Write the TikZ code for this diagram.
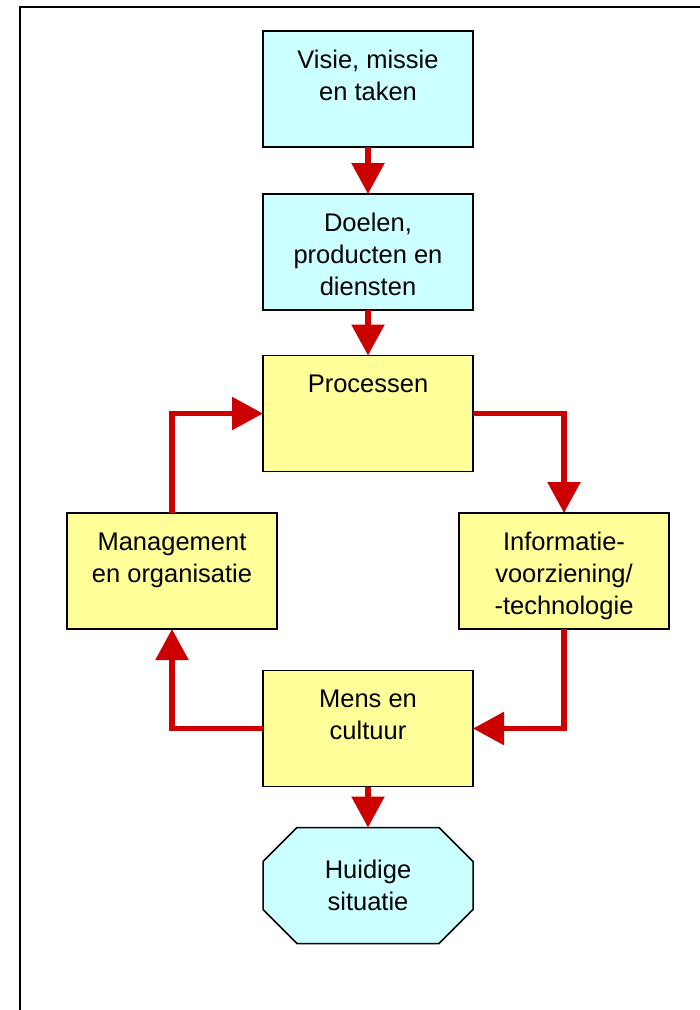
\documentclass[tikz,border=0pt]{standalone}
\usepackage{fontspec}
\setmainfont{Liberation Sans}
\usetikzlibrary{arrows.meta,backgrounds}
\definecolor{cyanfill}{HTML}{CCFFFF}
\definecolor{yelfill}{HTML}{FFFF99}
\definecolor{arrred}{HTML}{CC0000}
\newcommand{\bxt}[2][37pt]{\parbox[c][116pt][t]{210pt}{\centering\rule{0pt}{#1}#2}}
\tikzset{
  boxbase/.style={line width=1.5pt, draw=black, inner sep=0pt, outer sep=0pt,
    font=\fontsize{25.5pt}{32pt}\selectfont},
  cyanbox/.style={boxbase, fill=cyanfill},
  yelbox/.style={boxbase, fill=yelfill},
  flowarrow/.style={draw=arrred, line width=5.5pt, line join=miter,
    -{Triangle[width=32pt,length=31pt]}},
  frameline/.style={draw=black, line width=2pt}
}
\begin{document}
\begin{tikzpicture}[x=1pt,y=-1pt]
\useasboundingbox (0,0) rectangle (700,1010);
\begin{scope}[on background layer]
\fill[white] (0,0) rectangle (700,1010);
\end{scope}
\coordinate (fbl) at (20,1015);
\coordinate (ftl) at (20,7);
\coordinate (ftr) at (705,7);
\draw[frameline] (fbl) -- (ftl) -- (ftr);

\node[cyanbox] (v) at (368,89) {\bxt{Visie, missie\\en taken}};
\node[cyanbox] (d) at (368,252) {\bxt{Doelen,\\producten en\\diensten}};
\node[yelbox] (p) at (368,413.5) {\bxt{Processen}};
\node[yelbox] (mg) at (172,571) {\bxt{Management\\en organisatie}};
\node[yelbox] (i) at (564,571) {\bxt{Informatie-\\voorziening/\\-technologie}};
\node[yelbox] (m) at (368,728.5) {\bxt{Mens en\\cultuur}};
\node[boxbase, draw=none] (h) at (368,885.5) {\bxt[51pt]{Huidige\\situatie}};
\begin{scope}[on background layer]
\draw[line width=1.5pt, draw=black, fill=cyanfill, line join=miter]
  ([xshift=34pt]h.north west) -- ([xshift=-34pt]h.north east)
  -- ([yshift=-34pt]h.north east) -- ([yshift=34pt]h.south east)
  -- ([xshift=-34pt]h.south east) -- ([xshift=34pt]h.south west)
  -- ([yshift=34pt]h.south west) -- ([yshift=-34pt]h.north west) -- cycle;
\end{scope}

\draw[flowarrow] (v.south) -- (d.north);
\draw[flowarrow] (d.south) -- (p.north);
\draw[flowarrow] (p.east) -| (i.north);
\draw[flowarrow] (i.south) |- (m.east);
\draw[flowarrow] (m.west) -| (mg.south);
\draw[flowarrow] (mg.north) |- (p.west);
\draw[flowarrow] (m.south) -- (h.north);
\end{tikzpicture}
\end{document}
